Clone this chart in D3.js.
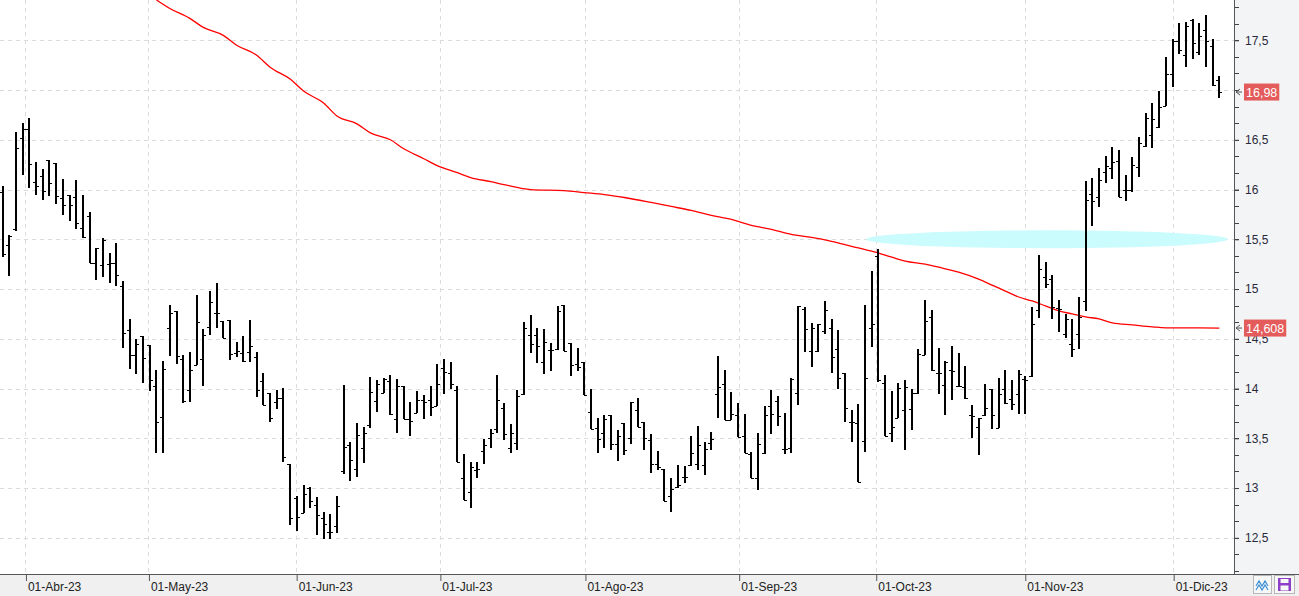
<!DOCTYPE html>
<html>
<head>
<meta charset="utf-8">
<script src="https://cdn.jsdelivr.net/npm/d3@7"></script>
<style>
  html, body { margin: 0; padding: 0; background: #fff; overflow: hidden; }
  svg { display: block; font-family: "Liberation Sans", Arial, sans-serif; }
</style>
</head>
<body>
<div id="chart"></div>
<script>
// daily OHLC, one entry per session (late Mar 2023 -> 12 Dec 2023)
const opens = [15.98,15.44,15.60,16.52,16.61,16.08,16.14,16.30,16.27,15.92,15.95,15.93,15.61,15.73,15.26,15.24,15.25,15.26,15.03,14.59,
  14.34,14.53,14.44,14.03,13.71,14.61,14.78,14.30,13.99,14.24,14.30,14.62,14.76,14.68,14.69,14.36,14.36,14.37,14.32,14.08,
  13.96,13.86,13.91,13.24,12.90,12.75,13.00,12.83,12.70,12.56,12.62,13.17,13.43,13.19,13.40,13.63,13.87,13.96,14.08,13.69,
  14.03,13.69,13.75,13.88,13.88,13.82,14.21,14.16,13.99,13.10,12.96,13.18,13.37,13.50,13.59,13.80,13.40,13.45,13.95,14.54,
  14.54,14.27,14.39,14.40,14.84,14.46,14.25,14.27,13.76,13.60,13.55,13.73,13.44,13.65,13.50,13.78,13.66,13.48,13.24,13.19,
  12.92,13.01,13.11,13.23,13.24,13.23,13.45,13.95,14.05,13.68,13.73,13.52,13.34,13.10,13.35,13.82,13.87,13.39,13.40,13.96,
  14.80,14.38,14.38,14.58,14.61,14.40,14.16,13.66,13.65,13.47,14.61,15.33,14.06,13.55,13.70,13.78,13.79,13.96,14.34,14.72,
  14.16,14.04,14.19,14.03,14.02,13.73,13.61,13.73,14.00,13.60,14.00,13.89,13.95,14.10,14.13,14.79,15.12,15.10,14.81,14.55,
  14.45,14.55,14.88,15.96,15.93,16.18,16.22,16.29,16.00,16.00,16.23,16.44,16.55,16.63,16.84,17.16,17.49,17.35,17.70,17.38,
  17.60,17.44,17.10];
const highs = [16.04,15.54,16.58,16.67,16.72,16.28,16.21,16.30,16.27,16.11,15.95,16.10,15.95,15.77,15.41,15.51,15.36,15.46,15.08,14.70,
  14.50,14.53,14.44,14.19,14.28,14.84,14.78,14.34,14.37,14.94,14.60,14.98,15.06,14.68,14.69,14.47,14.53,14.69,14.37,14.16,
  13.96,13.99,14.01,13.24,12.92,13.03,13.01,12.91,12.76,12.74,12.92,14.04,13.46,13.65,13.61,14.12,14.09,14.11,14.14,14.10,
  14.03,13.86,13.98,13.94,14.03,14.25,14.30,14.27,14.03,13.34,13.26,13.26,13.49,13.59,14.14,13.85,13.64,13.99,14.67,14.74,
  14.61,14.60,14.46,14.83,14.84,14.46,14.41,14.27,14.00,13.70,13.73,13.73,13.58,13.65,13.86,13.91,13.66,13.54,13.37,13.19,
  13.10,13.23,13.22,13.52,13.62,13.46,13.56,14.33,14.19,13.97,13.85,13.74,13.36,13.55,13.82,13.99,13.93,13.75,14.11,14.83,
  14.82,14.66,14.65,14.88,14.70,14.59,14.16,13.78,13.84,14.84,15.18,15.40,14.14,13.98,14.06,14.09,14.00,14.40,14.89,14.79,
  14.41,14.28,14.43,14.36,14.23,13.83,13.70,14.05,14.00,14.11,14.19,14.09,14.19,14.13,14.82,15.34,15.27,15.14,14.89,14.75,
  14.70,14.92,16.09,16.12,16.22,16.34,16.43,16.40,16.15,16.33,16.53,16.77,16.87,16.99,17.33,17.51,17.67,17.68,17.71,17.67,
  17.75,17.51,17.14];
const lows = [15.32,15.13,15.58,16.15,16.02,15.95,15.90,15.94,15.85,15.74,15.68,15.60,15.51,15.26,15.09,15.12,15.06,15.03,14.41,14.20,
  14.15,14.06,13.98,13.35,13.35,14.33,14.25,13.85,13.86,14.24,14.03,14.54,14.61,14.51,14.29,14.32,14.27,14.27,13.92,13.83,
  13.66,13.79,13.26,12.63,12.57,12.75,12.80,12.53,12.49,12.49,12.55,13.14,13.07,13.11,13.25,13.60,13.76,13.96,13.73,13.55,
  13.69,13.52,13.75,13.69,13.72,13.82,13.95,14.00,13.26,12.88,12.80,13.10,13.24,13.40,13.55,13.48,13.35,13.38,13.94,14.36,
  14.26,14.15,14.18,14.39,14.38,14.13,14.18,13.94,13.59,13.35,13.40,13.38,13.27,13.33,13.44,13.61,13.38,13.15,13.18,12.87,
  12.76,13.00,13.05,13.22,13.18,13.13,13.38,13.70,13.68,13.68,13.51,13.35,13.10,12.98,13.34,13.54,13.62,13.34,13.35,13.83,
  14.37,14.22,14.37,14.55,14.16,14.00,13.66,13.46,13.06,13.36,14.42,14.07,13.52,13.46,13.70,13.38,13.58,13.95,14.34,14.18,
  13.95,13.73,13.88,14.03,13.90,13.50,13.33,13.72,13.59,13.60,13.84,13.78,13.74,13.74,14.12,14.71,15.01,14.70,14.57,14.51,
  14.32,14.40,14.78,15.63,15.82,16.07,16.11,15.93,15.88,15.98,16.13,16.43,16.42,16.62,16.84,17.03,17.36,17.23,17.31,17.35,
  17.23,17.04,16.92];
const closes = [15.35,15.53,16.42,16.61,16.26,16.04,15.99,16.07,15.94,15.84,15.84,15.66,15.52,15.26,15.41,15.49,15.26,15.14,14.56,14.34,
  14.45,14.31,14.09,13.66,14.20,14.76,14.33,13.87,14.19,14.67,14.54,14.87,14.76,14.51,14.35,14.38,14.28,14.43,13.99,13.83,
  13.70,13.90,13.31,12.70,12.71,12.94,12.87,12.73,12.64,12.56,12.82,13.41,13.28,13.53,13.55,13.97,14.05,14.10,13.74,14.03,
  13.69,13.67,13.88,13.86,13.81,14.05,14.17,14.05,13.26,12.88,13.21,13.19,13.43,13.55,13.88,13.54,13.55,13.93,14.61,14.45,
  14.43,14.47,14.39,14.78,14.38,14.24,14.22,13.94,13.59,13.49,13.69,13.44,13.52,13.38,13.86,13.61,13.50,13.24,13.21,12.87,
  12.99,13.03,13.11,13.35,13.43,13.39,13.49,14.02,13.68,13.74,13.51,13.35,13.10,13.44,13.73,13.74,13.72,13.39,14.10,14.83,
  14.60,14.61,14.65,14.79,14.32,14.11,13.80,13.66,13.06,14.11,14.65,14.09,13.52,13.61,14.01,14.02,13.96,14.35,14.68,14.19,
  14.16,14.27,14.18,14.03,13.90,13.72,13.70,13.80,13.73,13.95,13.85,13.84,14.15,14.09,14.65,15.20,15.05,14.82,14.80,14.70,
  14.40,14.72,15.89,15.88,16.10,16.24,16.28,15.93,16.00,16.25,16.47,16.72,16.71,16.83,17.16,17.49,17.40,17.64,17.47,17.54,
  17.49,17.05,16.98];

// red moving average, read at session index
const maIdx = [23,25,28,30,33,35,38,40,43,45,48,50,53,55,58,60,63,65,68,70,73,75,79,84,87,90,93,97,100,103,
  106,109,112,115,118,121,124,127,130,133,135,138,140,143,146,148,150,152,154,156,158,160,162,164,166,169,172,174,179,182];
const maVals = [17.905,17.82,17.72,17.63,17.55,17.45,17.35,17.23,17.11,16.99,16.87,16.74,16.66,16.57,16.50,16.41,16.31,16.24,16.17,16.12,
  16.08,16.05,16.00,15.99,15.97,15.95,15.92,15.87,15.83,15.79,15.74,15.70,15.64,15.60,15.55,15.52,15.48,15.43,15.38,15.32,
  15.28,15.25,15.22,15.17,15.10,15.04,14.98,14.92,14.88,14.83,14.78,14.75,14.72,14.70,14.66,14.64,14.62,14.61,14.61,14.608];

// month ticks (session index where the month starts)
const monthIdx = [3.4, 21.8, 43.9, 65.4, 87.1, 110.1, 130.6, 152.9, 175.1];
const monthLabels = ["01-Abr-23","01-May-23","01-Jun-23","01-Jul-23","01-Ago-23","01-Sep-23","01-Oct-23","01-Nov-23","01-Dic-23"];

const priceTicks = [12.5,13,13.5,14,14.5,15,15.5,16,16.5,17,17.5];

// highlighted resistance zone (cyan ellipse)
const zoneIdx = [129.2, 183.3];
const zonePrice = [15.41, 15.59];

const W = 1299, H = 596;
const plotR = 1234, plotB = 574;

const es = d3.formatLocale({ decimal: ",", thousands: ".", grouping: [3], currency: ["", "€"] });
const fmtTick = es.format("~g");
const fmt2 = es.format(".2f");
const fmt3 = es.format(".3f");

const svg = d3.select("#chart").append("svg")
  .attr("width", W).attr("height", H);

const x = d3.scaleLinear().domain([0, opens.length - 1]).range([2.7, 1219.3]);
const y = d3.scaleLinear().domain([12.5, 17.5]).range([537.8, 40.3]);

svg.append("rect").attr("width", W).attr("height", H).attr("fill", "#fff");
svg.append("rect").attr("x", plotR).attr("y", 0).attr("width", W - plotR).attr("height", plotB)
  .attr("fill", "#f3f4f6");

svg.append("defs").append("clipPath").attr("id", "plot")
  .append("rect").attr("width", plotR).attr("height", plotB);

// grid
const grid = svg.append("g").attr("stroke", "#dcdcdc").attr("stroke-dasharray", "4,4").attr("shape-rendering", "crispEdges");
grid.selectAll(".hg").data(priceTicks).enter().append("line")
  .attr("x1", 0).attr("x2", plotR)
  .attr("y1", d => Math.round(y(d)) + 0.5).attr("y2", d => Math.round(y(d)) + 0.5);
grid.selectAll(".vg").data(monthIdx).enter().append("line")
  .attr("y1", 0).attr("y2", plotB)
  .attr("x1", d => Math.round(x(d)) + 0.5).attr("x2", d => Math.round(x(d)) + 0.5);

const plot = svg.append("g").attr("clip-path", "url(#plot)");

// zone
plot.append("ellipse")
  .attr("cx", (x(zoneIdx[0]) + x(zoneIdx[1])) / 2)
  .attr("cy", (y(zonePrice[0]) + y(zonePrice[1])) / 2)
  .attr("rx", (x(zoneIdx[1]) - x(zoneIdx[0])) / 2)
  .attr("ry", (y(zonePrice[0]) - y(zonePrice[1])) / 2)
  .attr("fill", "#cafbfd");

// moving average
const maLine = d3.line().curve(d3.curveMonotoneX).x(d => x(d[0])).y(d => y(d[1]));
plot.append("path")
  .datum(maIdx.map((d, i) => [d, maVals[i]]))
  .attr("d", maLine)
  .attr("fill", "none").attr("stroke", "#ff0000").attr("stroke-width", 1.3);

// OHLC bars
const bars = plot.append("g").attr("stroke", "#000").attr("shape-rendering", "crispEdges");
const idx = d3.range(opens.length);
bars.selectAll(".hl").data(idx).enter().append("line")
  .attr("x1", i => Math.round(x(i))).attr("x2", i => Math.round(x(i)))
  .attr("y1", i => y(highs[i])).attr("y2", i => y(lows[i]))
  .attr("stroke-width", 2);
bars.selectAll(".op").data(idx).enter().append("line")
  .attr("x1", i => Math.round(x(i)) - 3).attr("x2", i => Math.round(x(i)))
  .attr("y1", i => Math.round(y(opens[i])) + 0.5).attr("y2", i => Math.round(y(opens[i])) + 0.5)
  .attr("stroke-width", 1);
bars.selectAll(".cl").data(idx).enter().append("line")
  .attr("x1", i => Math.round(x(i))).attr("x2", i => Math.round(x(i)) + 3)
  .attr("y1", i => Math.round(y(closes[i])) + 0.5).attr("y2", i => Math.round(y(closes[i])) + 0.5)
  .attr("stroke-width", 1);

// last value tags (the 17 label sits fully under the close tag, as in the source)
const lastClose = closes[closes.length - 1];
const lastMa = maVals[maVals.length - 1];
const tags = [
  { v: lastClose, t: fmt2(lastClose) },
  { v: lastMa, t: fmt3(lastMa) }
];
const hidden = priceTicks.filter(p => Math.abs(y(p) - y(lastClose)) < 4);

// right price axis
const minor = d3.range(12, 18.01, 0.5 / 3).filter(v => y(v) >= 0 && y(v) <= plotB);
svg.append("g").attr("stroke", "#444").attr("shape-rendering", "crispEdges")
  .selectAll("line").data(minor).enter().append("line")
  .attr("x1", plotR).attr("x2", plotR + 5)
  .attr("y1", d => Math.round(y(d)) + 0.5).attr("y2", d => Math.round(y(d)) + 0.5);

const yAxis = svg.append("g").attr("transform", `translate(${plotR},0)`)
  .call(d3.axisRight(y).tickValues(priceTicks)
    .tickFormat(d => hidden.includes(d) ? "" : fmtTick(d)).tickSize(5).tickPadding(6));
yAxis.select(".domain").remove();
yAxis.selectAll(".tick line").attr("stroke", "#444");
yAxis.selectAll("text").attr("fill", "#2a2a3a").attr("font-size", 12)
  .attr("font-family", "'Liberation Sans', Arial, sans-serif");

// bottom band and date axis
svg.append("rect").attr("x", 0).attr("y", plotB).attr("width", W).attr("height", H - plotB)
  .attr("fill", "#f0f0f0");
svg.append("line").attr("x1", 0).attr("x2", W).attr("y1", plotB + 0.5).attr("y2", plotB + 0.5)
  .attr("stroke", "#555");
svg.append("line").attr("x1", plotR + 0.5).attr("x2", plotR + 0.5).attr("y1", 0).attr("y2", plotB)
  .attr("stroke", "#555");

const xAxis = svg.append("g").attr("transform", `translate(0,${plotB})`)
  .call(d3.axisBottom(x).tickValues(monthIdx).tickFormat((d, i) => monthLabels[i]).tickSize(7));
xAxis.select(".domain").remove();
xAxis.selectAll(".tick line").attr("stroke", "#555").attr("transform", "translate(0.5,0)");
xAxis.selectAll("text").attr("text-anchor", "start").attr("x", 2).attr("y", 8).attr("dy", "0.71em")
  .attr("fill", "#222").attr("font-size", 12)
  .attr("font-family", "'Liberation Sans', Arial, sans-serif");

tags.forEach(tg => {
  const cy = y(tg.v);
  const g = svg.append("g");
  g.append("path")
    .attr("d", `M${plotR + 6},${cy - 3}L${plotR + 2},${cy}L${plotR + 6},${cy + 3}M${plotR + 2},${cy}H${plotR + 8}`)
    .attr("fill", "none").attr("stroke", "#555").attr("stroke-width", 1);
  const txt = g.append("text").attr("x", plotR + 12).attr("y", cy).attr("dy", "0.36em")
    .attr("fill", "#fff").attr("font-size", 12.5).text(tg.t);
  const w = txt.node().getComputedTextLength();
  g.insert("rect", "text").attr("x", plotR + 10).attr("y", cy - 8.5)
    .attr("width", w + 4).attr("height", 17).attr("fill", "#e35b5b");
});

// little toolbar buttons at bottom right
const btn = svg.append("g");
btn.append("rect").attr("x", 1253.5).attr("y", 575.5).attr("width", 18).attr("height", 18)
  .attr("fill", "#f7f7f7").attr("stroke", "#b8b8b8");
btn.append("path").attr("d", "M1256,586L1259,581L1262,586L1265,581L1268,586M1256,590L1259,585L1262,590L1265,585L1268,590")
  .attr("fill", "none").attr("stroke", "#3d8fd6").attr("stroke-width", 1.2);
btn.append("rect").attr("x", 1274.5).attr("y", 575.5).attr("width", 20).attr("height", 18)
  .attr("fill", "#f7f7f7").attr("stroke", "#b8b8b8");
btn.append("rect").attr("x", 1278).attr("y", 578).attr("width", 13).attr("height", 13).attr("fill", "#8d3fc7");
btn.append("rect").attr("x", 1280.5).attr("y", 579).attr("width", 8).attr("height", 4).attr("fill", "#f7f7f7");
btn.append("rect").attr("x", 1280.5).attr("y", 585.5).attr("width", 8).attr("height", 5).attr("fill", "#f7f7f7");
</script>
</body>
</html>
